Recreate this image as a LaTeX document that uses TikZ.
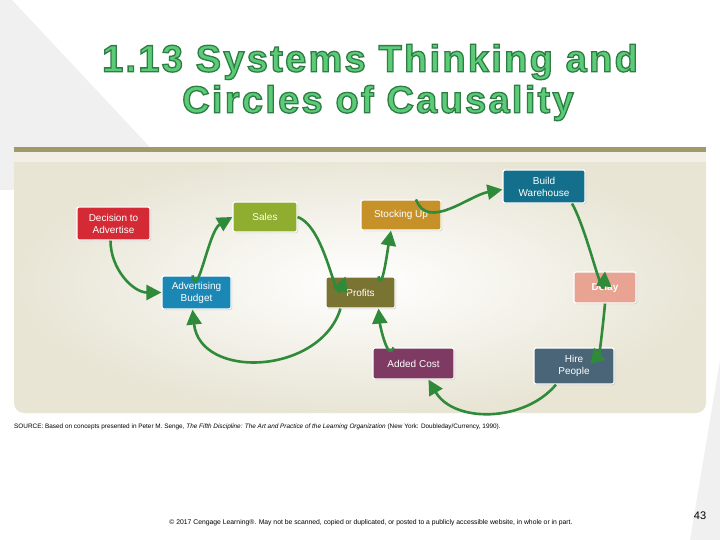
\documentclass[tikz,border=0pt]{standalone}
\usepackage{fontspec}
\setmainfont{Liberation Sans}
\usetikzlibrary{arrows.meta,shadows}
\definecolor{tg}{HTML}{5CCB78}
\definecolor{ar}{HTML}{2F8A3A}
\definecolor{pan}{RGB}{232,229,213}
\definecolor{bar}{RGB}{160,154,106}
\definecolor{cdec}{RGB}{212,42,53}
\definecolor{csal}{RGB}{143,173,47}
\definecolor{cadv}{RGB}{27,135,181}
\definecolor{cpro}{RGB}{122,116,51}
\definecolor{csto}{RGB}{199,145,42}
\definecolor{cbui}{RGB}{20,111,140}
\definecolor{cdel}{RGB}{232,163,147}
\definecolor{chir}{RGB}{74,101,119}
\definecolor{cadd}{RGB}{126,58,98}
\newcommand{\outl}[1]{\special{pdf:code q 2 Tr 1.3 w 0.18 0.49 0.27 RG}#1\special{pdf:code Q}}
\begin{document}
\begin{tikzpicture}[x=1pt,y=-1pt,
 box/.style={draw=white,line width=1.2pt,rounded corners=2pt,text=white,align=center,font=\fontsize{10}{12}\selectfont,inner sep=2pt,drop shadow={opacity=0.35,shadow xshift=1pt,shadow yshift=-1pt}},
 arr/.style={draw=ar,line width=2.6pt,-{Triangle[length=15pt,width=15pt]}}]
\useasboundingbox (0,0) rectangle (720,540);
\fill[white] (0,0) rectangle (720,540);
\fill[gray!12] (0,0) -- (12,0) -- (190,190) -- (0,190) -- cycle;
\fill[gray!12] (720,360) -- (720,540) -- (690,540) -- cycle;
% panel
\shade[inner color=white,outer color=pan,rounded corners=10pt] (14,152) rectangle (706,413);
\fill[pan!60] (14,150) rectangle (706,162);
\fill[bar] (14,147) rectangle (706,152);
% title
\node[text=tg,font=\fontsize{38}{40}\bfseries\addfontfeature{LetterSpace=6}] (t1) at (370,62) {\outl{1.13 Systems Thinking and}};
\node[text=tg,font=\fontsize{38}{40}\bfseries\addfontfeature{LetterSpace=6}] (t2) at (378,103) {\outl{Circles of Causality}};
% nodes
\node[box,fill=cdec,minimum width=73,minimum height=33] (dec) at (113.5,223.5) {Decision to\\Advertise};
\node[box,fill=csal,minimum width=64,minimum height=30] (sal) at (265,217) {Sales};
\node[box,fill=cadv,minimum width=69,minimum height=33] (adv) at (196.5,292.5) {Advertising\\Budget};
\node[box,fill=cpro,minimum width=69,minimum height=31] (pro) at (360.5,292.5) {Profits};
\node[box,fill=csto,minimum width=80,minimum height=30] (sto) at (401,215) {Stocking Up};
\node[box,fill=cbui,minimum width=82,minimum height=33] (bui) at (544,186.5) {Build\\Warehouse};
\node[box,fill=cdel,minimum width=62,minimum height=31,font=\fontsize{10}{12}\selectfont\bfseries] (del) at (605,287.5) {Delay};
\node[box,fill=chir,minimum width=80,minimum height=36] (hir) at (574,366) {Hire\\People};
\node[box,fill=cadd,minimum width=81,minimum height=31] (add) at (413.5,363.5) {Added Cost};
% arrows
\draw[arr] ([xshift=-3]dec.south) to[out=-90,in=180] (adv.west);
\draw[arr] ([xshift=-4]adv.north) to[out=-80,in=-150] (sal.west);
\draw[arr] (sal.east) to[out=-20,in=-110] ([xshift=-15]pro.north);
\draw[arr] ([xshift=-20]pro.south) .. controls (320,375) and (200,380) .. ([xshift=-4]adv.south);
\draw[arr] ([xshift=18]pro.north) to[out=-80,in=-100] ([xshift=-10]sto.south);
\draw[arr] ([xshift=15]sto.north) to[out=-70,in=-170] ([yshift=-3]bui.west);
\draw[arr] ([xshift=28]bui.south) to[out=-60,in=-95] (del.north);
\draw[arr] (del.south) to[out=-95,in=-75] ([xshift=20]hir.north);
\draw[arr] ([xshift=-18]hir.south) to[out=-130,in=-60] ([xshift=15]add.south);
\draw[arr] ([xshift=-20]add.north) to[out=-110,in=-85] ([xshift=18]pro.south);
% texts
\node[anchor=west,font=\fontsize{6.4}{7}\selectfont,inner sep=0] (src) at (14,427) {SOURCE: Based on concepts presented in Peter M. Senge, \textit{The Fifth Discipline: The Art and Practice of the Learning Organization} (New York: Doubleday/Currency, 1990).};
\node[font=\fontsize{6.8}{7}\selectfont,inner sep=0] (foot) at (371,523) {© 2017 Cengage Learning®. May not be scanned, copied or duplicated, or posted to a publicly accessible website, in whole or in part.};
\node[font=\fontsize{11}{12}\selectfont,inner sep=0] (pg) at (700,516) {43};
\end{tikzpicture}
\end{document}
